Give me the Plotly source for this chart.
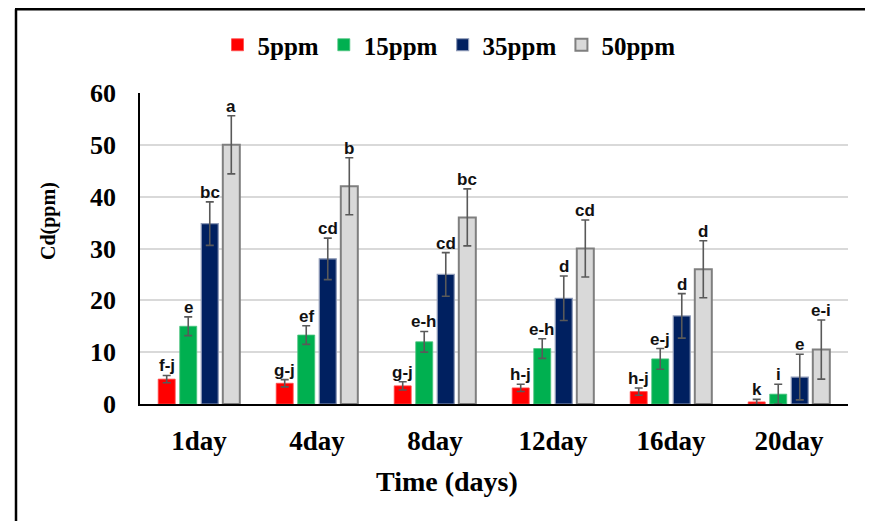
import plotly.graph_objects as go

days = ["1day", "4day", "8day", "12day", "16day", "20day"]
series_names = ["5ppm", "15ppm", "35ppm", "50ppm"]

v5 = [4.8, 4.0, 3.5, 3.1, 2.4, 0.4]
v15 = [15.0, 13.3, 12.0, 10.7, 8.7, 1.9]
v35 = [34.8, 28.0, 25.0, 20.4, 17.0, 5.2]
v50 = [50.0, 42.0, 36.0, 30.0, 26.0, 10.5]

e5 = [0.7, 0.7, 0.8, 0.7, 0.7, 0.5]
e15 = [1.8, 1.8, 2.0, 1.9, 2.0, 1.9]
e35 = [4.2, 4.0, 4.2, 4.3, 4.3, 4.4]
e50 = [5.6, 5.5, 5.5, 5.5, 5.5, 5.7]

l5 = ["f-j", "g-j", "g-j", "h-j", "h-j", "k"]
l15 = ["e", "ef", "e-h", "e-h", "e-j", "i"]
l35 = ["bc", "cd", "cd", "d", "d", "e"]
l50 = ["a", "b", "bc", "cd", "d", "e-i"]

x_title = "Time (days)"
y_title = "Cd(ppm)"

values = [v5, v15, v35, v50]
errors = [e5, e15, e35, e50]
letters = [l5, l15, l35, l50]

fills = ["#ff0000", "#00b050", "#002060", "#d9d9d9"]
outlines = ["#ff4d4d", "#4dc47f", "#8f9bb8", "#7f7f7f"]
outline_w = [0.8, 0.8, 1.2, 2]

# page has an 8px body margin: figure origin sits at (8, 8) in the screenshot
OFF = 8
W, H = 865, 513
L, R, T, B = 140 - OFF, 25, 93 - OFF, 117
pw = W - L - R
ph = H - T - B

def px(x):
    return (x - OFF - L) / pw

def py(y):
    return (H - B - (y - OFF)) / ph

bargap = 0.27
groupgap = 0.21

fig = go.Figure()
for i in range(4):
    fig.add_trace(go.Bar(
        name=series_names[i], x=days, y=values[i],
        marker=dict(color=fills[i], line=dict(color=outlines[i], width=outline_w[i])),
        error_y=dict(type="data", array=errors[i], visible=True,
                     color="#595959", thickness=1.6, width=4),
    ))

slot = (1 - bargap) / 4
annotations = []
for i in range(4):
    off = (i - 1.5) * slot
    for j in range(len(days)):
        annotations.append(dict(
            x=j + off, y=values[i][j] + errors[i][j], xref="x", yref="y",
            text="<b>" + letters[i][j] + "</b>", showarrow=False,
            yanchor="bottom", xanchor="center", yshift=-2,
            font=dict(family="Liberation Sans", size=17, color="#111111"),
        ))

annotations.append(dict(
    x=px(447), y=py(481), xref="paper", yref="paper", text="<b>" + x_title + "</b>",
    showarrow=False, xanchor="center", yanchor="middle",
    font=dict(family="Liberation Serif", size=28, color="#000000"),
))
annotations.append(dict(
    x=px(48), y=py(221), xref="paper", yref="paper", text="<b>" + y_title + "</b>",
    showarrow=False, xanchor="center", yanchor="middle", textangle=-90,
    font=dict(family="Liberation Serif", size=20, color="#000000"),
))

shapes = [
    dict(type="line", xref="paper", yref="paper", x0=px(16), x1=px(16), y0=py(9.2), y1=py(530),
         line=dict(color="#000000", width=2.5)),
    dict(type="line", xref="paper", yref="paper", x0=px(15), x1=px(873), y0=py(9.2), y1=py(9.2),
         line=dict(color="#000000", width=2.5)),
    dict(type="line", xref="paper", yref="paper", x0=px(871.5), x1=px(871.5), y0=py(9.2), y1=py(530),
         line=dict(color="#d0d0d0", width=1.5)),
]

fig.update_layout(
    width=W, height=H,
    margin=dict(l=L, r=R, t=T, b=B),
    paper_bgcolor="white", plot_bgcolor="white",
    barmode="group", bargap=bargap, bargroupgap=groupgap,
    font=dict(family="Liberation Serif", color="#000000"),
    legend=dict(orientation="h", x=px(449), xanchor="center", y=py(45), yanchor="middle",
                font=dict(family="Liberation Serif", size=25, color="#000000", weight="bold"),
                itemwidth=30, traceorder="normal"),
    annotations=annotations,
    shapes=shapes,
    showlegend=True,
)
fig.update_xaxes(
    type="category", showline=True, linecolor="#000000", linewidth=2,
    tickfont=dict(family="Liberation Serif", size=27, color="#000000", weight="bold"),
    ticks="", ticklabelstandoff=12,
)
fig.update_yaxes(
    range=[0, 60], dtick=10, showgrid=True, gridcolor="#d9d9d9", gridwidth=1.5,
    showline=True, linecolor="#000000", linewidth=1.5, zeroline=False,
    tickfont=dict(family="Liberation Serif", size=26, color="#000000", weight="bold"),
    ticks="", ticklabelstandoff=17,
)

fig.write_html("out.html")
